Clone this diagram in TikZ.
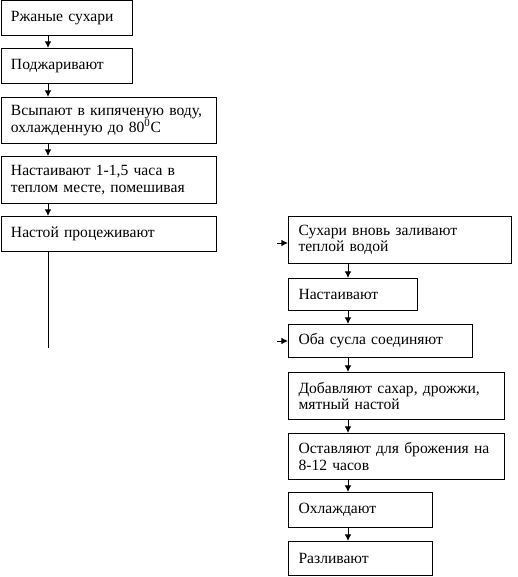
\documentclass[tikz,border=0pt]{standalone}
\usepackage{fontspec}
\setmainfont{Liberation Serif}
\usetikzlibrary{arrows.meta}

\tikzset{
  boks/.style={draw, line width=0.75pt, anchor=north west, align=left,
    inner xsep=7.5pt, inner ysep=0pt, font=\fontsize{11.7pt}{12.5pt}\selectfont},
  pil/.style={-{Latex[length=5pt,width=5pt]}, line width=0.75pt}
}

\begin{document}
\begin{tikzpicture}[x=0.75pt,y=-0.75pt]
  %ramme
  	\useasboundingbox (0,0) rectangle (517,577);
  %pil-kolonner
  	\coordinate (lx) at (48,0);
  	\coordinate (rx) at (348,0);

  %venstre kolonne
  	\node[boks, text width=83.25pt, minimum height=26.25pt] (p1) at (0.5,0.5) {Ржаные сухари};
  	\node[boks, text width=83.25pt, minimum height=26.25pt] (p2) at (0.5,48) {Поджаривают};
  	\node[boks, text width=146.25pt, minimum height=34.5pt] (p3) at (0.5,97) {Всыпают в кипяченую воду,\\охлажденную до 80\textsuperscript{0}С};
  	\node[boks, text width=146.25pt, minimum height=35.25pt] (p4) at (0.5,156) {Настаивают 1-1,5 часа в\\теплом месте, помешивая};
  	\node[boks, text width=146.25pt, minimum height=26.25pt] (p5) at (0.5,216) {Настой процеживают};

  %højre kolonne
  	\node[boks, text width=152.25pt, minimum height=35.25pt] (a) at (288,216) {Сухари вновь заливают\\теплой водой};
  	\node[boks, text width=81.75pt, minimum height=24pt] (b) at (288,278) {Настаивают};
  	\node[boks, text width=123pt, minimum height=24.75pt] (c) at (288,324) {Оба сусла соединяют};
  	\node[boks, text width=147pt, minimum height=35.25pt] (d) at (288,372) {Добавляют сахар, дрожжи,\\мятный настой};
  	\node[boks, text width=147pt, minimum height=34.5pt] (e) at (288,433) {Оставляют для брожения на\\8-12 часов};
  	\node[boks, text width=93pt, minimum height=26.25pt] (f) at (288,492) {Охлаждают};
  	\node[boks, text width=93pt, minimum height=25.5pt] (g) at (288,541) {Разливают};

  %pile venstre
  	\draw[pil] (p1.south -| lx) -- (p2.north -| lx);
  	\draw[pil] (p2.south -| lx) -- (p3.north -| lx);
  	\draw[pil] (p3.south -| lx) -- (p4.north -| lx);
  	\draw[pil] (p4.south -| lx) -- (p5.north -| lx);
  %linje uden ende
  	\coordinate (ende) at (48,348);
  	\draw[line width=0.75pt] (p5.south -| lx) -- (ende);

  %pile højre
  	\draw[pil] (a.south -| rx) -- (b.north -| rx);
  	\draw[pil] (b.south -| rx) -- (c.north -| rx);
  	\draw[pil] (c.south -| rx) -- (d.north -| rx);
  	\draw[pil] (d.south -| rx) -- (e.north -| rx);
  	\draw[pil] (e.south -| rx) -- (f.north -| rx);
  	\draw[pil] (f.south -| rx) -- (g.north -| rx);

  %små pile ind
  	\coordinate (ind1) at (277,243);
  	\coordinate (ind2) at (277,341);
  	\draw[pil] (ind1) -- (ind1 -| a.west);
  	\draw[pil] (ind2) -- (ind2 -| c.west);
\end{tikzpicture}
\end{document}
